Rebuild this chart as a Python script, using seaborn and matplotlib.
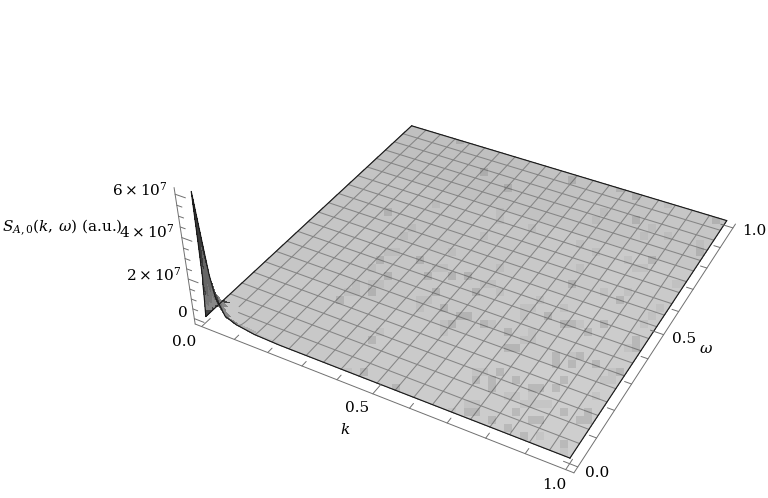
import numpy as np
import matplotlib
matplotlib.use('Agg')
import matplotlib.pyplot as plt
from matplotlib.colors import ListedColormap, to_rgba
from matplotlib.path import Path
from matplotlib.transforms import IdentityTransform
import seaborn as sns

# surface samples, the spike sits at the origin. z in units of 1e7
k_grid = [0, .002, .004, .006, .008, .01, .012, .022, .03, .04, .063, .094, .148, .22, .4, .6, .8, 1.0]
ridge_z = [0, .49, .98, 1.65, 2.0, 3.66, 6.1, 3.97, 2.31, 1.25, .42, .2, .05, 0, 0, 0, 0, 0]
omega_grid = [0, .005, .01, .02, .03, .05, .07, .25, .5, .75, 1.0]
omega_decay = [1, .66, .5, .3, .16, .05, 0, 0, 0, 0, 0]
# dark side of the spike goes in bands by height
band_floor = [3.5, 1.6, 1.2, .7, .25, 0]
band_shades = ['#3a3a3a', '#666666', '#444444', '#777777', '#888888', '#444444']
# how many omega cells each k cell keeps dark
dark_reach = [6, 6, 6, 6, 6, 6, 6, 5, 4, 3]
# fade out along the front edge behind the spike
fade_shades = ['#888888', '#b0b0b0', '#c0c0c0']
fade_reach = [2, 2, 1]
# grey level of the floor, rows k, columns omega
floor_levels = [[200, 198, 196, 192],
                [202, 200, 198, 194],
                [204, 202, 200, 196],
                [206, 204, 202, 198]]

z_ticks_major = [0, 2e7, 4e7, 6e7]
z_ticks_minor = [.5e7, 1e7, 1.5e7, 2.5e7, 3e7, 3.5e7, 4.5e7, 5e7, 5.5e7]
xy_ticks_major = [0, .5, 1]
xy_ticks_minor = [.1, .2, .3, .4, .6, .7, .8, .9]

# blotches in the picture, 8 px blocks (column, row)
dark_blocks = [(48,26),(47,32),(52,32),(48,34),(53,34),(56,34),(58,34),(46,36),(54,36),(59,36),
    (42,37),(55,38),(57,39),(58,39),(56,40),(60,40),(63,41),(46,42),(63,43),(64,43),(45,46),(62,46),
    (59,47),(61,47),(64,47),(66,48),(67,48),(61,48),(49,48),(79,24),(79,27),(81,32),(68,39),(70,40),
    (71,40),(75,40),(73,41),(79,42),(79,43),(69,44),(72,44),(69,45),(71,45),(74,45),(77,46),(70,47),
    (69,48),(58,51),(59,51),(64,51),(70,51),(73,51),(66,52),(67,52),(72,52),(73,52),(61,52),(63,53),
    (65,54),(70,55),(77,37),(71,35),(89,27),(87,31),(57,17),(77,23),(71,22),(60,21),(63,23)]
light_blocks = [(54,25),(62,26),(62,27),(66,28),(51,28),(50,29),(60,29),(56,31),(48,31),(49,31),
    (54,33),(55,33),(46,33),(62,33),(44,35),(46,35),(47,35),(60,35),(61,35),(43,36),(44,36),(62,36),
    (52,37),(53,37),(67,37),(52,38),(65,38),(66,38),(65,39),(55,40),(61,40),(55,41),(47,41),(66,41),
    (65,42),(66,42),(43,46),(59,46),(60,46),(63,49),(64,49),(65,50),(66,50),(58,50),(59,50),(83,25),
    (75,26),(74,27),(81,28),(80,29),(83,29),(87,30),(72,30),(74,31),(78,32),(72,33),(79,33),(80,33),
    (84,35),(85,35),(75,36),(78,36),(82,38),(70,38),(81,39),(72,40),(80,40),(78,43),(71,44),(76,46),
    (75,47),(76,47),(66,49),(74,49),(67,50),(68,50),(56,51),(67,54),(70,56)]

sns.set_theme(style='white')
plt.rcParams['font.family'] = ['DejaVu Serif']
plt.rcParams['mathtext.fontset'] = 'dejavuserif'

W, H = 768, 498
fig = plt.figure(figsize=(W / 100, H / 100), dpi=100)
# square axes, wider than the figure is tall
ax = fig.add_axes([84.539 / W, ((H - W) / 2 + 31.257) / H, 1, W / H], projection='3d', computed_zorder=False)
lo, hi, zlo, ztop = -.02, 1.02, -.28e7, 6.3e7
ax.set_xlim(lo, hi, view_margin=0)
ax.set_ylim(lo, hi, view_margin=0)
ax.set_zlim(zlo, ztop, view_margin=0)
ax.view_init(elev=35.95263, azim=-61.87705, roll=-.34043)
ax.set_proj_type('persp', focal_length=.32835)
ax.set_box_aspect((1, 1.00443, .3995), zoom=.76557)
ax.set_axis_off()
ax.patch.set_alpha(0)

z_table = np.outer(ridge_z, omega_decay) * 1e7
K, O = np.meshgrid(k_grid, omega_grid, indexing='ij')
colors = np.zeros(K.shape + (4,))
for i in range(len(k_grid) - 1):
    for j in range(len(omega_grid) - 1):
        level = floor_levels[max(i - 13, 0)][max(j - 6, 0)] / 255
        colors[i, j] = (level, level, level, 1)
        if i < len(dark_reach) and j < dark_reach[i]:
            height = z_table[i:i + 2, j:j + 2].mean() / 1e7
            band = next(b for b, f in enumerate(band_floor) if height >= f)
            colors[i, j] = to_rgba(band_shades[band])
        elif 10 <= i < 13 and j < fade_reach[i - 10]:
            colors[i, j] = to_rgba(fade_shades[i - 10])
ax.plot_surface(K, O, z_table, facecolors=colors, rstride=1, cstride=1, shade=False,
                linewidth=0, antialiased=False, zorder=1)

# mesh, 20 cells each way
mesh = dict(color='#858585', lw=.75, zorder=2)
for m in np.linspace(0, 1, 21)[1:-1]:
    start = 6 if m < .06 else 0
    z_line = [np.interp(m, k_grid, z_table[:, j]) for j in range(len(omega_grid))]
    ax.plot([m] * len(omega_grid[start:]), omega_grid[start:], z_line[start:], **mesh)
    start = 10 if m < .06 else 0
    z_line = [np.interp(m, omega_grid, z_table[i, :]) for i in range(len(k_grid))]
    ax.plot(k_grid[start:], [m] * len(k_grid[start:]), z_line[start:], **mesh)

# surface boundary
edge = dict(color='k', lw=.85, zorder=3)
ax.plot(k_grid, [0] * len(k_grid), z_table[:, 0], **edge)
ax.plot(k_grid, [1] * len(k_grid), z_table[:, -1], **edge)
ax.plot([0] * len(omega_grid), omega_grid, z_table[0, :], **edge)
ax.plot([1] * len(omega_grid), omega_grid, z_table[-1, :], **edge)

# box edges and ticks
box = dict(color='#707070', lw=.7, zorder=3)
ax.plot([lo, hi], [lo, lo], [zlo, zlo], **box)
ax.plot([hi, hi], [lo, hi], [zlo, zlo], **box)
ax.plot([lo, lo], [lo, lo], [zlo, ztop], **box)
for t, ln in [(t, .035) for t in xy_ticks_major] + [(t, .018) for t in xy_ticks_minor]:
    ax.plot([t, t], [lo, lo + ln], [zlo, zlo], **box)
    ax.plot([hi, hi - ln], [t, t], [zlo, zlo], **box)
for t, ln in [(t, .03) for t in z_ticks_major] + [(t, .015) for t in z_ticks_minor]:
    ax.plot([lo, lo + ln], [lo, lo], [t, t], **box)

# 8 px blotches as a screen aligned heatmap, kept inside the surface
grid = np.zeros((62, 96))
for col, row in light_blocks:
    grid[row, col] = 1
for col, row in dark_blocks:
    grid[row, col] = 2
overlay = fig.add_axes([0, 2 / H, 1, 496 / H], zorder=5)
overlay.patch.set_alpha(0)
sns.heatmap(grid, mask=grid == 0, cmap=ListedColormap([(0, 0, 0, .045), (0, 0, 0, .1)]), vmin=.5, vmax=2.5,
            cbar=False, xticklabels=False, yticklabels=False, ax=overlay)
overlay.set_axis_off()

ax.apply_aspect()
corners = np.array([(0, 0, 0, 1), (1, 0, 0, 1), (1, 1, 0, 1), (0, 1, 0, 1), (0, 0, 0, 1)], float)
q = (ax.get_proj() @ corners.T).T
outline = ax.transData.transform(q[:, :2] / q[:, 3:])
overlay.collections[0].set_clip_path(Path(outline), IdentityTransform())


def label(x, y, s):
    fig.text(x / W, 1 - y / H, s, ha='center', va='center', fontsize=11, color='black')


label(140, 190, r'$6\times10^{7}$')
label(147, 232, r'$4\times10^{7}$')
label(154, 275, r'$2\times10^{7}$')
label(183, 313, '0')
label(62, 228, r'$S_{A,0}(k,\,\omega)$ (a.u.)')
label(184, 342, '0.0')
label(357, 408, '0.5')
label(345, 430, r'$k$')
label(554, 485, '1.0')
label(597, 473, '0.0')
label(684, 339, '0.5')
label(706, 349, r'$\omega$')
label(754, 231, '1.0')

fig.savefig('out.png', dpi=100)
